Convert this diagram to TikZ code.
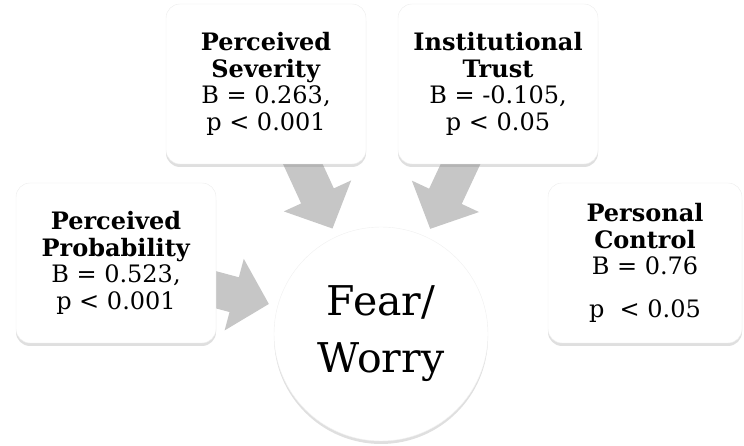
\documentclass[tikz,border=0pt]{standalone}
\usepackage{fontspec}
\setmainfont{DejaVu Serif}
\usetikzlibrary{arrows.meta,shadows,backgrounds}

\begin{document}
\begin{tikzpicture}[x=1pt, y=1pt,
  factor/.style={draw=gray!15, fill=white, rounded corners=14pt, align=center,
    minimum width=200pt, minimum height=160pt, inner sep=0pt,
    font=\fontsize{24}{26.5}\selectfont,
    drop shadow={shadow xshift=0pt, shadow yshift=-3pt, opacity=0.25}},
  outcome/.style={circle, draw=gray!12, fill=white, minimum size=214pt,
    inner sep=0pt, align=center, font=\fontsize{41}{57}\selectfont,
    drop shadow={shadow xshift=0pt, shadow yshift=-3pt, opacity=0.25}},
  push/.style={draw=gray!45, line width=36pt,
    -{Triangle[width=72pt, length=36pt]}, shorten <=75pt, shorten >=116pt}]
\useasboundingbox (0,0) rectangle (744,446);
\node[outcome] (fear) at (381,112) {Fear/\\Worry};
\node[factor] (prob) at (116,183) {\textbf{Perceived}\\\textbf{Probability}\\B = 0.523,\\p < 0.001};
\node[factor] (sev) at (266,362) {\textbf{Perceived}\\\textbf{Severity}\\B = 0.263,\\p < 0.001};
\node[factor] (trust) at (498,362) {\textbf{Institutional}\\\textbf{Trust}\\B = -0.105,\\p < 0.05};
\node[factor, minimum width=194pt] (ctrl) at (645,183) {\textbf{Personal}\\\textbf{Control}\\B = 0.76\\[16pt]p\ \ < 0.05};
% arrows into the centre
\begin{scope}[on background layer]
\draw[push] (prob.center) -- (fear.center);
\draw[push] (sev.center) -- (fear.center);
\draw[push] (trust.center) -- (fear.center);
\end{scope}
\end{tikzpicture}
\end{document}
